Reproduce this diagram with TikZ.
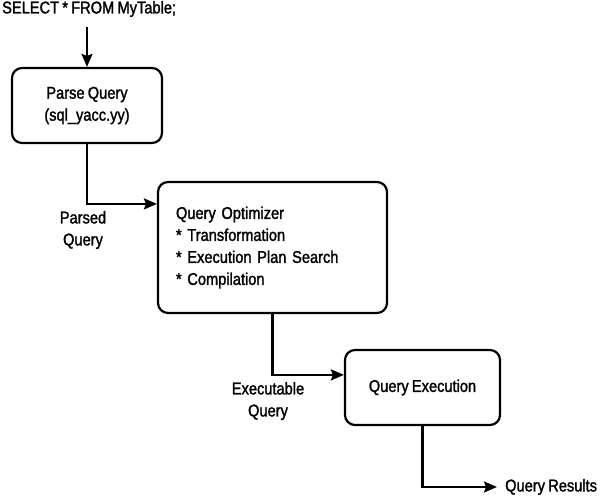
\documentclass[tikz,border=0pt]{standalone}
\usepackage{fontspec}
\setmainfont{Liberation Sans}[FakeStretch=0.86,FakeBold=1.6,WordSpace=0.8]
\usepackage{tikz}
\usetikzlibrary{arrows.meta,calc}

\begin{document}
\begin{tikzpicture}[x=1pt,y=1pt,
   font=\fontsize{17}{22}\selectfont,
   box/.style={draw,line width=2.2pt,rounded corners=10pt},
   flow/.style={line width=2.2pt,-{Stealth[length=13pt,width=11pt,inset=2pt]}}]
   \useasboundingbox (0,0) rectangle (600,-497); % page size
   \node [anchor=west,inner sep=0] (select) at (2,-9) {SELECT * FROM MyTable;}; % input
   \node [box,minimum width=150,minimum height=75,align=center] (parse) at (87,-105.5) {Parse Query\\(sql\_yacc.yy)};
   \node [box,minimum width=229,minimum height=131,text width=193,align=left] (optimizer) at (272.5,-247.5)
      {Query Optimizer\\{}* Transformation\\{}* Execution Plan Search\\{}* Compilation};
   \node [box,minimum width=155,minimum height=75] (execution) at (422.5,-387.5) {Query Execution};
   \node [anchor=west,inner sep=0] (results) at (505,-487) {Query Results}; % output
   \draw [flow] (parse.north |- select.south) ++(0,-10) -- (parse.north);
   \draw [flow] (parse.south) |- ($(optimizer.north west)+(0,-23)$); % parsed
   \draw [flow] (optimizer.south) |- ($(execution.north west)+(0,-26)$); % executable
   \draw [flow] (execution.south) |- ($(results.west)+(-8,0)$);
   \node [align=center] (parsed) at (83,-230) {Parsed\\Query};
   \node [align=center] (executable) at (268,-401) {Executable\\Query};
\end{tikzpicture}
\end{document}
